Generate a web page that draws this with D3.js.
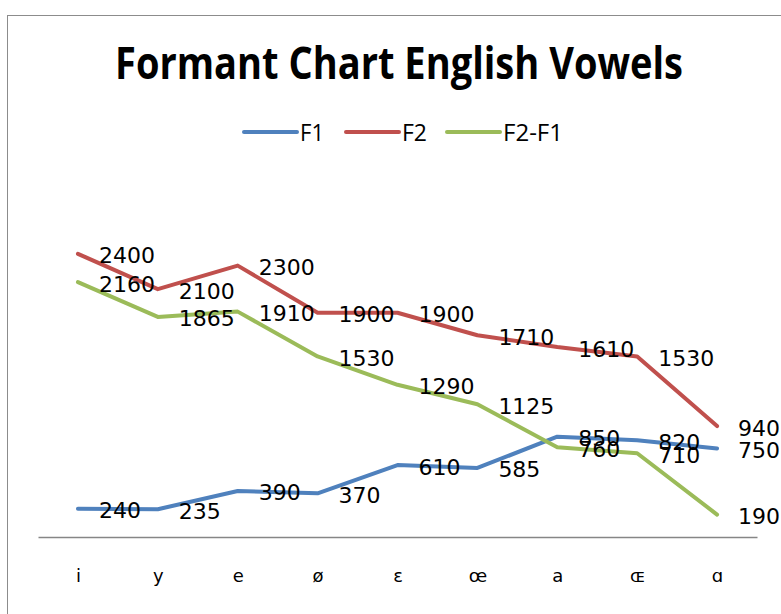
<!DOCTYPE html>
<html>
<head>
<meta charset="utf-8">
<script src="https://cdn.jsdelivr.net/npm/d3@7"></script>
<style>
  body { margin: 0; background: #fff; }
  svg { display: block; }
</style>
</head>
<body>
<svg id="chart" width="781" height="614"></svg>
<script>
var vowels = ["i", "y", "e", "\u00f8", "\u025b", "\u0153", "a", "\u0276", "\u0251"];
var f1 = [240, 235, 390, 370, 610, 585, 850, 820, 750];
var f2 = [2400, 2100, 2300, 1900, 1900, 1710, 1610, 1530, 940];
var f2MinusF1 = [2160, 1865, 1910, 1530, 1290, 1125, 760, 710, 190];
var seriesNames = ["F1", "F2", "F2-F1"];
var seriesColors = ["#4f81bd", "#c0504d", "#9bbb59"];

var svg = d3.select("#chart");

// chart frame
svg.append("rect")
    .attr("x", 7.5).attr("y", 15.5)
    .attr("width", 800).attr("height", 700)
    .attr("fill", "#fff")
    .attr("stroke", "#8c8c8c")
    .attr("stroke-width", 1);

svg.append("text")
    .attr("x", 399).attr("y", 79)
    .attr("text-anchor", "middle")
    .attr("font-family", "Open Sans, sans-serif")
    .attr("font-weight", "bold")
    .attr("font-size", 44)
    .attr("textLength", 568)
    .attr("lengthAdjust", "spacingAndGlyphs")
    .attr("fill", "#000")
    .text("Formant Chart English Vowels");

var x = d3.scalePoint().domain(vowels).range([38, 757]).padding(0.5);
var y = d3.scaleLinear().domain([0, 3000]).range([537, 183]);

// x axis
var xAxis = svg.append("g")
    .attr("transform", "translate(0,537)")
    .call(d3.axisBottom(x).tickSize(0).tickSizeOuter(0).tickPadding(32));
xAxis.select(".domain").attr("stroke", "#868686").attr("stroke-width", 1.5);
xAxis.selectAll("text")
    .attr("font-family", "DejaVu Sans, sans-serif")
    .attr("font-size", 18)
    .attr("fill", "#000");

// legend
var legendX = [244, 346, 447];
var legendW = [24, 25, 60];
var legend = svg.append("g");
seriesNames.forEach(function (name, i) {
    legend.append("line")
        .attr("x1", legendX[i]).attr("x2", legendX[i] + 53)
        .attr("y1", 132).attr("y2", 132)
        .attr("stroke", seriesColors[i])
        .attr("stroke-width", 4)
        .attr("stroke-linecap", "round");
    legend.append("text")
        .attr("x", legendX[i] + 56).attr("y", 141)
        .attr("font-family", "Open Sans, sans-serif")
        .attr("font-size", 23)
        .attr("textLength", legendW[i])
        .attr("lengthAdjust", "spacingAndGlyphs")
        .text(name);
});

var line = d3.line()
    .x(function (d, i) { return x(vowels[i]); })
    .y(function (d) { return y(d); });

var allSeries = [f1, f2, f2MinusF1];
allSeries.forEach(function (values, s) {
    svg.append("path")
        .datum(values)
        .attr("d", line)
        .attr("fill", "none")
        .attr("stroke", seriesColors[s])
        .attr("stroke-width", 4)
        .attr("stroke-linejoin", "round")
        .attr("stroke-linecap", "round");
});

// data labels, right of each point
allSeries.forEach(function (values, s) {
    svg.append("g").selectAll("text")
        .data(values)
        .join("text")
        .attr("x", function (d, i) { return x(vowels[i]) + 21; })
        .attr("y", function (d) { return y(d) + 2; })
        .attr("dominant-baseline", "central")
        .attr("font-family", "DejaVu Sans, sans-serif")
        .attr("font-size", 22)
        .attr("fill", "#000")
        .text(function (d) { return d; });
});
</script>
</body>
</html>
